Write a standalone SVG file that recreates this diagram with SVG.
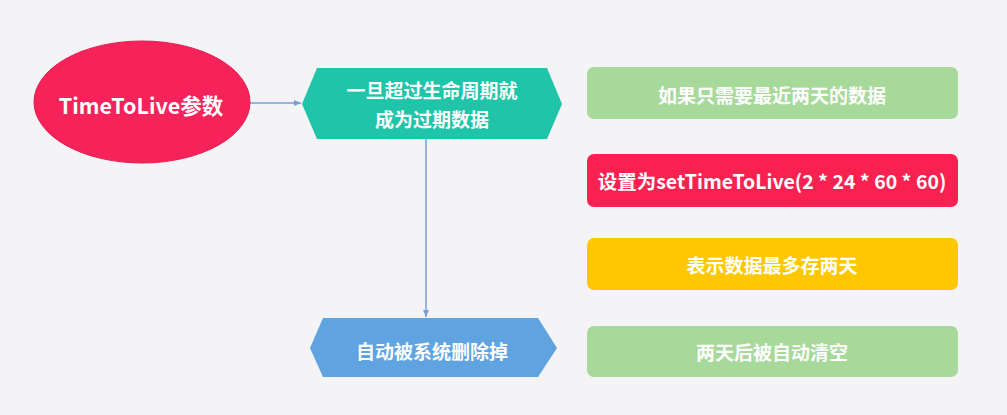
<svg xmlns="http://www.w3.org/2000/svg" width="1007" height="415" viewBox="0 0 1007 415">
<defs>
<style>
.t{font-family:"Noto Sans CJK SC","Noto Sans",sans-serif;font-weight:bold;fill:#ffffff;text-anchor:middle;dominant-baseline:central;font-size:19px}
.c{stroke:#7b9fd4;stroke-width:1.5;fill:none}
</style>
<marker id="ah" markerWidth="8" markerHeight="8" refX="7" refY="4" orient="auto" markerUnits="userSpaceOnUse">
<path d="M0,1 L7,4 L0,7 Z" fill="#7b9fd4"/>
</marker>
</defs>
<rect width="1007" height="415" fill="#f4f3f6"/>
<g id="connectors">
<line class="c" x1="250" y1="103" x2="301" y2="103" marker-end="url(#ah)"/>
<line class="c" x1="426" y1="139" x2="426" y2="317" marker-end="url(#ah)"/>
</g>
<g id="n-ttl">
<ellipse cx="142" cy="102" rx="108" ry="61" fill="#f5235a" stroke="#e81c50" stroke-width="1"/>
<text class="t" x="141" y="104" style="font-size:21.5px">TimeToLive参数</text>
</g>
<g id="n-expire">
<polygon points="302,104 317,68 547,68 562,104 547,139 317,139" fill="#20c4a8"/>
<text class="t" x="432" y="89">一旦超过生命周期就</text>
<text class="t" x="432" y="118">成为过期数据</text>
</g>
<g id="n-delete">
<polygon points="310,348 323,318 538,318 557,348 538,377 323,377" fill="#5fa3e0"/>
<text class="t" x="432" y="350">自动被系统删除掉</text>
</g>
<g id="n-need">
<rect x="587" y="67" width="371" height="52" rx="7" fill="#a7d99b"/>
<text class="t" x="772" y="94">如果只需要最近两天的数据</text>
</g>
<g id="n-set">
<rect x="587" y="154" width="371" height="53" rx="7" fill="#f9214f"/>
<text class="t" x="772" y="180" style="font-size:19.5px">设置为setTimeToLive(2 * 24 * 60 * 60)</text>
</g>
<g id="n-mean">
<rect x="587" y="238" width="371" height="52" rx="7" fill="#fec700"/>
<text class="t" x="772" y="264">表示数据最多存两天</text>
</g>
<g id="n-clear">
<rect x="587" y="326" width="371" height="51" rx="7" fill="#a7d99b"/>
<text class="t" x="772" y="351">两天后被自动清空</text>
</g>
</svg>
